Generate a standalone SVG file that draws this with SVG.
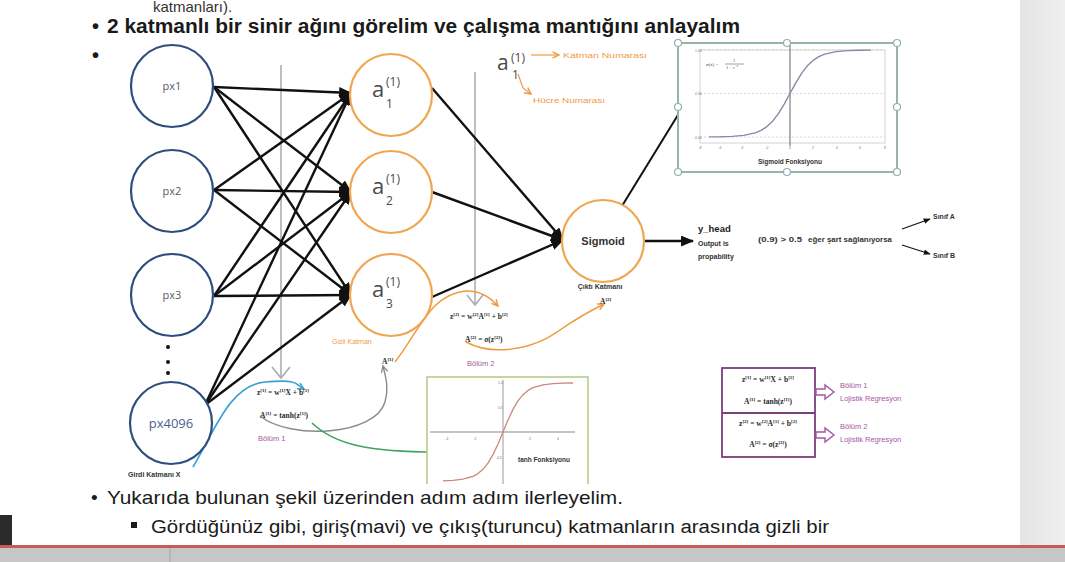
<svg xmlns="http://www.w3.org/2000/svg" width="1065" height="562" viewBox="0 0 1065 562">
  <style>
    .slide { font-family: "Liberation Sans", Arial, sans-serif; fill: #1a1a1a; }
    .inNode { fill: #ffffff; stroke: #2f4d7e; stroke-width: 2.2; }
    .hidNode { fill: #ffffff; stroke: #f0a650; stroke-width: 2.2; }
    .inLbl { font-family: "Open Sans", "Liberation Sans", sans-serif; font-size: 11px; fill: #555c6a; text-anchor: middle; }
    .aMain { font-family: "Open Sans", "Liberation Sans", sans-serif; font-size: 22px; fill: #4a4a4a; }
    .aSup { font-family: "Open Sans", "Liberation Sans", sans-serif; font-size: 12px; fill: #4a4a4a; }
    .wire { stroke: #111111; stroke-width: 2.4; fill: none; }
    .tiny { font-family: "Liberation Sans", Arial, sans-serif; font-size: 7px; font-weight: bold; fill: #333333; }
    .orangeTxt { font-family: "Liberation Sans", Arial, sans-serif; font-size: 7px; fill: #f09a45; }
    .purpleTxt { font-family: "Liberation Sans", Arial, sans-serif; font-size: 7.5px; fill: #a456a4; }
    .eq { font-family: "Liberation Serif", "Times New Roman", serif; font-size: 7.5px; font-weight: bold; fill: #2a2a2a; }
    .eqs { font-size: 5px; }
    .guide { stroke: #a8a8a8; stroke-width: 1.5; fill: none; }
    .tick { font-family: "Liberation Sans", Arial, sans-serif; font-size: 3.5px; fill: #777777; }
    .handle { fill: #ffffff; stroke: #8fb0b4; stroke-width: 1.2; }
  </style>
  <defs>
    <marker id="arrBlack" viewBox="0 0 12 10" refX="11" refY="5" markerWidth="13" markerHeight="11" markerUnits="userSpaceOnUse" orient="auto">
      <path d="M0,0 L12,5 L0,10 Z" fill="#111111"/>
    </marker>
    <marker id="arrOrange" viewBox="0 0 10 10" refX="9" refY="5" markerWidth="8" markerHeight="8" markerUnits="userSpaceOnUse" orient="auto">
      <path d="M1,1 L9,5 L1,9" fill="none" stroke="#ef9a40" stroke-width="1.8"/>
    </marker>
    <marker id="arrBlue" viewBox="0 0 10 10" refX="9" refY="5" markerWidth="8" markerHeight="8" markerUnits="userSpaceOnUse" orient="auto">
      <path d="M1,1 L9,5 L1,9" fill="none" stroke="#3aa0d2" stroke-width="1.8"/>
    </marker>
    <marker id="arrGreen" viewBox="0 0 10 10" refX="9" refY="5" markerWidth="9" markerHeight="9" markerUnits="userSpaceOnUse" orient="auto">
      <path d="M1,1 L9,5 L1,9" fill="none" stroke="#3fa35e" stroke-width="1.8"/>
    </marker>
    <marker id="arrGray" viewBox="0 0 10 10" refX="9" refY="5" markerWidth="8" markerHeight="8" markerUnits="userSpaceOnUse" orient="auto">
      <path d="M1,1 L9,5 L1,9" fill="none" stroke="#8a8a8a" stroke-width="1.6"/>
    </marker>
    <marker id="arrSmall" viewBox="0 0 10 10" refX="9" refY="5" markerWidth="7" markerHeight="7" markerUnits="userSpaceOnUse" orient="auto">
      <path d="M0,1 L10,5 L0,9 Z" fill="#111111"/>
    </marker>
    <linearGradient id="sidePanel" x1="0" y1="0" x2="1" y2="0">
      <stop offset="0" stop-color="#e4e4e4"/>
      <stop offset="1" stop-color="#efefef"/>
    </linearGradient>
    <clipPath id="tanhClip"><rect x="426" y="376" width="164" height="108"/></clipPath>
  </defs>

  <!-- page -->
  <rect x="0" y="0" width="1065" height="562" fill="#ffffff"/>
  <rect x="1020" y="0" width="45" height="546" fill="url(#sidePanel)"/>

  <!-- slide text -->
  <g id="slide-text" class="slide">
    <text x="153" y="12" font-size="15" fill="#333">katmanları).</text>
    <text x="92" y="33" font-size="20" font-weight="bold">•</text>
    <text x="107" y="33" font-size="19.5" font-weight="bold" textLength="633" lengthAdjust="spacingAndGlyphs">2 katmanlı bir sinir ağını görelim ve çalışma mantığını anlayalım</text>
    <text x="92" y="62" font-size="20" font-weight="bold">•</text>
    <text x="91" y="504" font-size="19">•</text>
    <text x="107" y="504" font-size="19" textLength="516" lengthAdjust="spacingAndGlyphs">Yukarıda bulunan şekil üzerinden adım adım ilerleyelim.</text>
    <rect x="131" y="522" width="6" height="6" fill="#1a1a1a"/>
    <text x="151" y="533" font-size="18" textLength="678" lengthAdjust="spacingAndGlyphs">Gördüğünüz gibi, giriş(mavi) ve çıkış(turuncu) katmanların arasında gizli bir</text>
  </g>

  <!-- guide lines with open arrowheads -->
  <g id="guides">
    <line class="guide" x1="281" y1="65" x2="281" y2="378"/>
    <polyline class="guide" points="272,367 281,378 290,367"/>
    <line class="guide" x1="475" y1="72" x2="475" y2="305"/>
    <polyline class="guide" points="467,295 475,305 483,295"/>
  </g>

  <!-- connectors -->
  <g id="connectors">
    <!-- input layer to hidden layer -->
    <line class="wire" x1="214" y1="87" x2="351" y2="93" marker-end="url(#arrBlack)"/>
    <line class="wire" x1="214" y1="87" x2="351" y2="192" marker-end="url(#arrBlack)"/>
    <line class="wire" x1="214" y1="87" x2="351" y2="295" marker-end="url(#arrBlack)"/>
    <line class="wire" x1="214" y1="190" x2="351" y2="93" marker-end="url(#arrBlack)"/>
    <line class="wire" x1="214" y1="190" x2="351" y2="192" marker-end="url(#arrBlack)"/>
    <line class="wire" x1="214" y1="190" x2="351" y2="295" marker-end="url(#arrBlack)"/>
    <line class="wire" x1="214" y1="296" x2="351" y2="93" marker-end="url(#arrBlack)"/>
    <line class="wire" x1="214" y1="296" x2="351" y2="192" marker-end="url(#arrBlack)"/>
    <line class="wire" x1="214" y1="296" x2="351" y2="295" marker-end="url(#arrBlack)"/>
    <line class="wire" x1="205" y1="405" x2="351" y2="93" marker-end="url(#arrBlack)"/>
    <line class="wire" x1="205" y1="405" x2="351" y2="192" marker-end="url(#arrBlack)"/>
    <line class="wire" x1="205" y1="405" x2="351" y2="295" marker-end="url(#arrBlack)"/>
    <!-- hidden layer to output -->
    <line class="wire" x1="432" y1="88" x2="563" y2="240" marker-end="url(#arrBlack)"/>
    <line class="wire" x1="432" y1="192" x2="563" y2="240" marker-end="url(#arrBlack)"/>
    <line class="wire" x1="432" y1="297" x2="563" y2="240" marker-end="url(#arrBlack)"/>
    <!-- output to prediction -->
    <line class="wire" x1="645" y1="241" x2="693" y2="241" marker-end="url(#arrBlack)"/>
    <!-- output node to sigmoid plot -->
    <line x1="622" y1="206" x2="681" y2="110" stroke="#111" stroke-width="2"/>
    <circle cx="622" cy="206" r="2" fill="#111"/>
    <!-- class decision arrows -->
    <line x1="902" y1="229" x2="930" y2="219" stroke="#111" stroke-width="1.2" marker-end="url(#arrSmall)"/>
    <line x1="902" y1="245" x2="930" y2="254" stroke="#111" stroke-width="1.2" marker-end="url(#arrSmall)"/>
    <!-- forward-pass curves -->
    <path d="M193 467 C215 430 230 385 265 382 S295 384 304 389" fill="none" stroke="#3aa0d2" stroke-width="1.6" marker-end="url(#arrBlue)"/>
    <path d="M260 416 C290 440 375 436 385 402 C389 388 386 378 383 366" fill="none" stroke="#8a8a8a" stroke-width="1.4" marker-end="url(#arrGray)"/>
    <path d="M312 423 C335 445 370 452 437 452" fill="none" stroke="#3fa35e" stroke-width="1.6" marker-end="url(#arrGreen)"/>
    <path d="M395 362 C420 330 430 295 465 291 C480 290 490 297 498 306" fill="none" stroke="#ef9a40" stroke-width="1.5" marker-end="url(#arrOrange)"/>
    <path d="M466 342 C490 355 530 352 560 330 C580 316 592 310 604 304" fill="none" stroke="#ef9a40" stroke-width="1.5" marker-end="url(#arrOrange)"/>
  </g>

  <!-- input layer -->
  <g id="node-px1">
    <circle class="inNode" cx="172" cy="86" r="41"/>
    <text class="inLbl" x="172" y="90">px1</text>
  </g>
  <g id="node-px2">
    <circle class="inNode" cx="172" cy="191" r="41"/>
    <text class="inLbl" x="172" y="195">px2</text>
  </g>
  <g id="node-px3">
    <circle class="inNode" cx="172" cy="295" r="41"/>
    <text class="inLbl" x="172" y="299">px3</text>
  </g>
  <g id="input-ellipsis" fill="#111">
    <circle cx="168" cy="347" r="2"/>
    <circle cx="168" cy="362" r="2"/>
    <circle cx="168" cy="373" r="2"/>
  </g>
  <g id="node-px4096">
    <circle class="inNode" cx="171" cy="423" r="41"/>
    <text class="inLbl" x="171" y="428" style="font-size:13px;fill:#4a6290">px4096</text>
  </g>
  <text class="tiny" x="128" y="477" font-size="6.5">Girdi Katmanı X</text>

  <!-- hidden layer -->
  <g id="node-a1">
    <circle class="hidNode" cx="391" cy="95" r="41"/>
    <text class="aMain" x="372" y="97">a</text>
    <text class="aSup" x="386" y="86">(1)</text>
    <text class="aSup" x="386" y="108">1</text>
  </g>
  <g id="node-a2">
    <circle class="hidNode" cx="391" cy="192" r="41"/>
    <text class="aMain" x="372" y="194">a</text>
    <text class="aSup" x="386" y="183">(1)</text>
    <text class="aSup" x="386" y="205">2</text>
  </g>
  <g id="node-a3">
    <circle class="hidNode" cx="391" cy="295" r="41"/>
    <text class="aMain" x="372" y="297">a</text>
    <text class="aSup" x="386" y="286">(1)</text>
    <text class="aSup" x="386" y="308">3</text>
  </g>
  <text class="orangeTxt" x="332" y="344">Gizli Katman</text>

  <!-- output node -->
  <g id="node-sigmoid">
    <circle class="hidNode" cx="603" cy="241" r="41" stroke-width="2.4"/>
    <text x="603" y="245" text-anchor="middle" font-family="Liberation Sans, Arial, sans-serif" font-size="11" font-weight="bold" fill="#333">Sigmoid</text>
  </g>
  <text class="tiny" x="600" y="289" text-anchor="middle">Çıktı Katmanı</text>
  <text class="eq" x="600" y="304">A<tspan class="eqs" dy="-3">[2]</tspan></text>

  <!-- notation legend -->
  <g id="notation">
    <text class="aMain" x="497" y="70" style="font-size:21px">a</text>
    <text class="aSup" x="511" y="62">(1)</text>
    <text class="aSup" x="512" y="79">1</text>
    <line x1="531" y1="55" x2="559" y2="55" stroke="#ef9a40" stroke-width="1.2" marker-end="url(#arrOrange)"/>
    <text class="orangeTxt" x="563" y="58" textLength="84" lengthAdjust="spacingAndGlyphs">Katman Numarası</text>
    <polyline points="518,74 523,88 531,94" fill="none" stroke="#ef9a40" stroke-width="1.2" marker-end="url(#arrOrange)"/>
    <text class="orangeTxt" x="533" y="103" textLength="72" lengthAdjust="spacingAndGlyphs">Hücre Numarası</text>
  </g>

  <!-- sigmoid function plot -->
  <g id="sigmoid-plot">
    <rect x="678" y="43" width="219" height="129" fill="#ffffff" stroke="#98b4a6" stroke-width="2"/>
    <rect x="700" y="50" width="185" height="93" fill="none" stroke="#c8c8c8" stroke-width="0.8"/>
    <line x1="700" y1="50" x2="885" y2="50" stroke="#d0d0d0" stroke-width="0.8" stroke-dasharray="2,2"/>
    <line x1="700" y1="93.5" x2="885" y2="93.5" stroke="#d0d0d0" stroke-width="0.8" stroke-dasharray="2,2"/>
    <line x1="700" y1="137" x2="885" y2="137" stroke="#d0d0d0" stroke-width="0.8" stroke-dasharray="2,2"/>
    <line x1="790" y1="43" x2="790" y2="146" stroke="#666" stroke-width="1"/>
    <polyline fill="none" stroke="#8e86a8" stroke-width="1.4" stroke-linejoin="round" points="709,136.9 720.6,136.8 732.2,136.4 743.8,135.4 755.3,132.9 761.1,130.4 766.9,126.6 772.7,121.2 778.4,113.6 784.2,104.1 790,93.5 795.8,82.9 801.6,73.4 807.3,65.8 813.1,60.4 818.9,56.6 824.7,54.1 836.2,51.6 847.8,50.6 859.4,50.2 870.9,50.1"/>
    <text class="tick" x="695" y="52">1.00</text>
    <text class="tick" x="695" y="95">0.50</text>
    <text class="tick" x="695" y="139">0.00</text>
    <text class="tick" x="700" y="149" text-anchor="middle">-8</text>
    <text class="tick" x="720" y="149" text-anchor="middle">-6</text>
    <text class="tick" x="742" y="149" text-anchor="middle">-4</text>
    <text class="tick" x="767" y="149" text-anchor="middle">-2</text>
    <text class="tick" x="790" y="149" text-anchor="middle">0</text>
    <text class="tick" x="813" y="149" text-anchor="middle">2</text>
    <text class="tick" x="837" y="149" text-anchor="middle">4</text>
    <text class="tick" x="860" y="149" text-anchor="middle">6</text>
    <text class="tick" x="885" y="149" text-anchor="middle">8</text>
    <text x="706" y="66" font-family="Liberation Serif, serif" font-size="5" fill="#444">σ(z) =</text>
    <text x="733" y="62" font-family="Liberation Serif, serif" font-size="4.5" fill="#444">1</text>
    <line x1="725" y1="64" x2="744" y2="64" stroke="#444" stroke-width="0.5"/>
    <text x="726" y="69" font-family="Liberation Serif, serif" font-size="4.5" fill="#444">1 + e<tspan font-size="3" dy="-2">−z</tspan></text>
    <text x="790" y="164" text-anchor="middle" font-family="Liberation Sans, Arial, sans-serif" font-size="6.5" font-weight="bold" fill="#333">Sigmoid Fonksiyonu</text>
    <circle class="handle" cx="678" cy="43" r="3.5"/>
    <circle class="handle" cx="787" cy="43" r="3.5"/>
    <circle class="handle" cx="897" cy="43" r="3.5"/>
    <circle class="handle" cx="678" cy="107" r="3.5"/>
    <circle class="handle" cx="897" cy="107" r="3.5"/>
    <circle class="handle" cx="678" cy="172" r="3.5"/>
    <circle class="handle" cx="787" cy="172" r="3.5"/>
    <circle class="handle" cx="897" cy="172" r="3.5"/>
  </g>

  <!-- prediction -->
  <g id="prediction">
    <text x="698" y="232" font-family="Liberation Sans, Arial, sans-serif" font-size="9.5" font-weight="bold" fill="#222">y_head</text>
    <text class="tiny" x="698" y="246">Output is</text>
    <text class="tiny" x="698" y="259">propability</text>
    <text class="tiny" x="758" y="242" textLength="44" lengthAdjust="spacingAndGlyphs">(0.9) &gt; 0.5</text>
    <text class="tiny" x="808" y="242" textLength="84" lengthAdjust="spacingAndGlyphs">eğer şart sağlanıyorsa</text>
    <text class="tiny" x="933" y="219">Sınıf A</text>
    <text class="tiny" x="933" y="258">Sınıf B</text>
  </g>

  <!-- layer 1 equations -->
  <g id="eq-layer1">
    <text class="eq" x="257" y="395">z<tspan class="eqs" dy="-3">[1]</tspan><tspan dy="3"> = w</tspan><tspan class="eqs" dy="-3">[1]</tspan><tspan dy="3">X + b</tspan><tspan class="eqs" dy="-3">[1]</tspan></text>
    <text class="eq" x="260" y="418">A<tspan class="eqs" dy="-3">[1]</tspan><tspan dy="3"> = tanh(z</tspan><tspan class="eqs" dy="-3">[1]</tspan><tspan dy="3">)</tspan></text>
    <text class="purpleTxt" x="258" y="441">Bölüm 1</text>
    <text class="eq" x="382" y="364">A<tspan class="eqs" dy="-3">[1]</tspan></text>
  </g>

  <!-- layer 2 equations -->
  <g id="eq-layer2">
    <text class="eq" x="450" y="319">z<tspan class="eqs" dy="-3">[2]</tspan><tspan dy="3"> = w</tspan><tspan class="eqs" dy="-3">[2]</tspan><tspan dy="3">A</tspan><tspan class="eqs" dy="-3">[1]</tspan><tspan dy="3"> + b</tspan><tspan class="eqs" dy="-3">[2]</tspan></text>
    <text class="eq" x="465" y="342">A<tspan class="eqs" dy="-3">[2]</tspan><tspan dy="3"> = σ(z</tspan><tspan class="eqs" dy="-3">[2]</tspan><tspan dy="3">)</tspan></text>
    <text class="purpleTxt" x="467" y="366">Bölüm 2</text>
  </g>

  <!-- tanh function plot -->
  <g id="tanh-plot">
    <g clip-path="url(#tanhClip)">
      <rect x="427" y="377" width="161" height="120" fill="#ffffff" stroke="#b5cf8a" stroke-width="1.6"/>
      <line x1="430" y1="432" x2="575" y2="432" stroke="#8a8a8a" stroke-width="1.2"/>
      <line x1="503" y1="380" x2="503" y2="484" stroke="#9a9a9a" stroke-width="1"/>
      <polyline fill="none" stroke="#c98a7a" stroke-width="1.3" stroke-linejoin="round" points="443,480.8 453,480.3 463,479.2 467,478 473,476.4 478,473.6 483,469.3 488,463.1 493,454.6 498,444 503,432 508,420 513,409.4 518,400.9 523,394.7 528,390.4 533,387.6 543,384.8 553,383.7 563,383.2 573,383"/>
    </g>
    <text class="tick" x="447" y="440" text-anchor="middle">-4</text>
    <text class="tick" x="475" y="440" text-anchor="middle">-2</text>
    <text class="tick" x="530" y="440" text-anchor="middle">2</text>
    <text class="tick" x="558" y="440" text-anchor="middle">4</text>
    <text class="tick" x="498" y="384">1.0</text>
    <text class="tick" x="498" y="409">0.5</text>
    <text class="tick" x="496" y="459">-0.5</text>
    <text x="518" y="462" font-family="Liberation Sans, Arial, sans-serif" font-size="6.5" font-weight="bold" fill="#333">tanh Fonksiyonu</text>
  </g>

  <!-- summary box -->
  <g id="summary">
    <rect x="722" y="368" width="93" height="89" fill="#ffffff" stroke="#7b3f7b" stroke-width="1.8"/>
    <line x1="722" y1="413" x2="815" y2="413" stroke="#7b3f7b" stroke-width="1.8"/>
    <text class="eq" x="768" y="382" text-anchor="middle">z<tspan class="eqs" dy="-3">[1]</tspan><tspan dy="3"> = w</tspan><tspan class="eqs" dy="-3">[1]</tspan><tspan dy="3">X + b</tspan><tspan class="eqs" dy="-3">[1]</tspan></text>
    <text class="eq" x="768" y="404" text-anchor="middle">A<tspan class="eqs" dy="-3">[1]</tspan><tspan dy="3"> = tanh(z</tspan><tspan class="eqs" dy="-3">[1]</tspan><tspan dy="3">)</tspan></text>
    <text class="eq" x="768" y="426" text-anchor="middle">z<tspan class="eqs" dy="-3">[2]</tspan><tspan dy="3"> = w</tspan><tspan class="eqs" dy="-3">[2]</tspan><tspan dy="3">A</tspan><tspan class="eqs" dy="-3">[1]</tspan><tspan dy="3"> + b</tspan><tspan class="eqs" dy="-3">[2]</tspan></text>
    <text class="eq" x="768" y="447" text-anchor="middle">A<tspan class="eqs" dy="-3">[2]</tspan><tspan dy="3"> = σ(z</tspan><tspan class="eqs" dy="-3">[2]</tspan><tspan dy="3">)</tspan></text>
    <path d="M816,389 L825,389 L825,385 L834,392 L825,399 L825,395 L816,395 Z" fill="#ffffff" stroke="#a456a4" stroke-width="1.4"/>
    <path d="M816,432 L825,432 L825,428 L834,435 L825,442 L825,438 L816,438 Z" fill="#ffffff" stroke="#a456a4" stroke-width="1.4"/>
    <text class="purpleTxt" x="840" y="388">Bölüm  1</text>
    <text class="purpleTxt" x="840" y="401">Lojistik Regresyon</text>
    <text class="purpleTxt" x="840" y="429">Bölüm  2</text>
    <text class="purpleTxt" x="840" y="442">Lojistik Regresyon</text>
  </g>

  <!-- player bar -->
  <g id="player-bar">
    <rect x="0" y="515" width="12" height="32" fill="#2b2b2b"/>
    <rect x="0" y="545" width="1065" height="3" fill="#c75a5a"/>
    <rect x="0" y="548" width="1065" height="14" fill="#c6c6c6"/>
    <line x1="170" y1="548" x2="170" y2="562" stroke="#a8a8a8" stroke-width="1"/>
  </g>
</svg>
